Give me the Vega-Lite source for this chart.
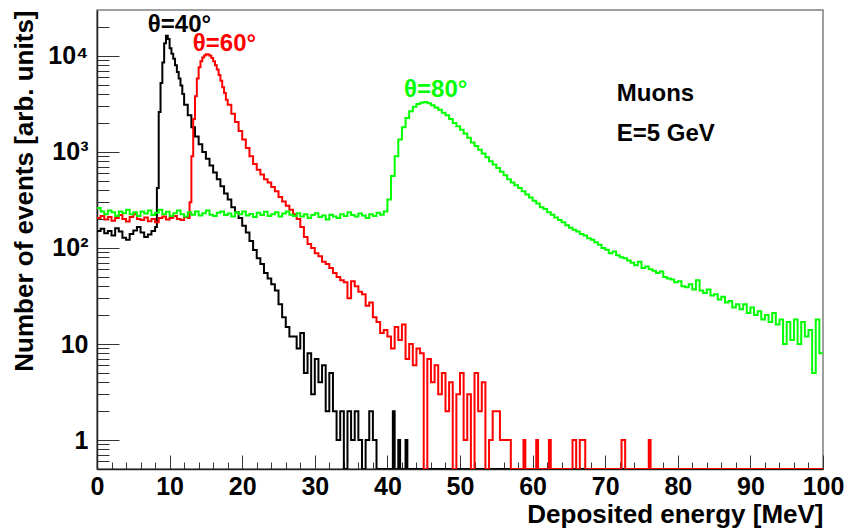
{
  "$schema": "https://vega.github.io/schema/vega-lite/v6.json",
  "width": 726,
  "height": 459,
  "autosize": {"type": "none"},
  "padding": {"left": 97, "top": 10, "right": 25, "bottom": 63},
  "background": "white",
  "config": {"font": "Liberation Sans", "view": {"stroke": "#808080", "strokeWidth": 1.5}},
  "datasets": {
    "k40": [
      {"e":0,"n":150},{"e":0.5,"n":158},{"e":1,"n":142},{"e":1.5,"n":150},{"e":2,"n":135},{"e":2.5,"n":160},{"e":3,"n":148},{"e":3.5,"n":128},{"e":4,"n":122},{"e":4.5,"n":140},{"e":5,"n":152},{"e":5.5,"n":165},{"e":6,"n":145},{"e":6.5,"n":130},{"e":7,"n":138},{"e":7.5,"n":150},{"e":8,"n":165},{"e":8.25,"n":420},{"e":8.5,"n":2600},{"e":8.75,"n":5200},{"e":9,"n":8500},{"e":9.25,"n":13500},{"e":9.5,"n":16200},{"e":9.75,"n":15000},{"e":10,"n":12000},{"e":10.25,"n":10500},{"e":10.5,"n":9300},{"e":10.75,"n":8000},{"e":11,"n":6800},{"e":11.25,"n":5800},{"e":11.5,"n":4900},{"e":11.75,"n":4000},{"e":12,"n":3100},{"e":12.5,"n":2400},{"e":13,"n":1800},{"e":13.5,"n":1450},{"e":14,"n":1200},{"e":14.5,"n":1000},{"e":15,"n":850},{"e":15.5,"n":720},{"e":16,"n":610},{"e":16.5,"n":520},{"e":17,"n":440},{"e":17.5,"n":370},{"e":18,"n":320},{"e":18.5,"n":265},{"e":19,"n":235},{"e":19.5,"n":205},{"e":20,"n":170},{"e":20.5,"n":145},{"e":21,"n":118},{"e":21.5,"n":95},{"e":22,"n":78},{"e":22.5,"n":68},{"e":23,"n":55},{"e":23.5,"n":48},{"e":24,"n":42},{"e":24.5,"n":36},{"e":25,"n":26},{"e":25.5,"n":19},{"e":26,"n":15},{"e":26.5,"n":12},{"e":27,"n":12},{"e":27.5,"n":9},{"e":28,"n":13},{"e":28.5,"n":5},{"e":29,"n":8},{"e":29.5,"n":3},{"e":30,"n":7},{"e":30.5,"n":4},{"e":31,"n":6},{"e":31.5,"n":2},{"e":32,"n":5},{"e":32.5,"n":2},{"e":33,"n":1},{"e":33.5,"n":2},{"e":34,"n":0.5},{"e":34.5,"n":2},{"e":35,"n":1},{"e":35.5,"n":2},{"e":36,"n":1},{"e":36.5,"n":0.5},{"e":37,"n":1},{"e":37.5,"n":2},{"e":38,"n":1},{"e":38.5,"n":0.5},{"e":40.75,"n":2},{"e":41,"n":0.5},{"e":41.5,"n":1},{"e":41.75,"n":0.5},{"e":42.5,"n":1},{"e":42.75,"n":0.5},{"e":100,"n":0.5}
    ],
    "k60": [
      {"e":0,"n":205},{"e":0.5,"n":215},{"e":1,"n":198},{"e":1.5,"n":210},{"e":2,"n":192},{"e":2.5,"n":205},{"e":3,"n":220},{"e":3.5,"n":200},{"e":4,"n":188},{"e":4.5,"n":210},{"e":5,"n":225},{"e":5.5,"n":200},{"e":6,"n":195},{"e":6.5,"n":208},{"e":7,"n":190},{"e":7.5,"n":200},{"e":8,"n":185},{"e":8.5,"n":205},{"e":9,"n":212},{"e":9.5,"n":198},{"e":10,"n":205},{"e":10.5,"n":215},{"e":11,"n":200},{"e":11.5,"n":195},{"e":12,"n":210},{"e":12.5,"n":205},{"e":12.75,"n":300},{"e":13,"n":900},{"e":13.25,"n":2200},{"e":13.5,"n":3800},{"e":13.75,"n":5800},{"e":14,"n":7600},{"e":14.25,"n":8800},{"e":14.5,"n":9600},{"e":14.75,"n":10100},{"e":15,"n":10400},{"e":15.25,"n":10300},{"e":15.5,"n":10000},{"e":15.75,"n":9500},{"e":16,"n":8800},{"e":16.25,"n":8000},{"e":16.5,"n":7200},{"e":16.75,"n":6300},{"e":17,"n":5500},{"e":17.25,"n":4700},{"e":17.5,"n":4100},{"e":17.75,"n":3500},{"e":18,"n":3100},{"e":18.5,"n":2500},{"e":19,"n":2050},{"e":19.5,"n":1650},{"e":20,"n":1350},{"e":20.5,"n":1100},{"e":21,"n":900},{"e":21.5,"n":750},{"e":22,"n":650},{"e":22.5,"n":580},{"e":23,"n":520},{"e":23.5,"n":480},{"e":24,"n":430},{"e":24.5,"n":390},{"e":25,"n":340},{"e":25.5,"n":305},{"e":26,"n":275},{"e":26.5,"n":250},{"e":27,"n":225},{"e":27.5,"n":200},{"e":28,"n":165},{"e":28.5,"n":130},{"e":29,"n":110},{"e":29.5,"n":100},{"e":30,"n":88},{"e":30.5,"n":82},{"e":31,"n":72},{"e":31.5,"n":68},{"e":32,"n":62},{"e":32.5,"n":55},{"e":33,"n":50},{"e":33.5,"n":46},{"e":34,"n":44},{"e":34.5,"n":30},{"e":35,"n":45},{"e":35.5,"n":40},{"e":36,"n":35},{"e":36.5,"n":33},{"e":37,"n":25},{"e":37.5,"n":27},{"e":38,"n":19},{"e":38.5,"n":17},{"e":39,"n":13},{"e":39.5,"n":14},{"e":40,"n":12},{"e":40.5,"n":9},{"e":41,"n":15},{"e":41.5,"n":11},{"e":42,"n":16},{"e":42.5,"n":7},{"e":43,"n":10},{"e":43.5,"n":6},{"e":44,"n":9},{"e":44.5,"n":8},{"e":45,"n":0.5},{"e":45.5,"n":7},{"e":46,"n":4},{"e":46.5,"n":6},{"e":47,"n":3},{"e":47.5,"n":5},{"e":48,"n":2},{"e":48.5,"n":4},{"e":49,"n":0.5},{"e":49.5,"n":3},{"e":50,"n":5},{"e":50.5,"n":1},{"e":51,"n":3},{"e":51.5,"n":0.5},{"e":52,"n":5},{"e":52.5,"n":2},{"e":53,"n":4},{"e":53.5,"n":0.5},{"e":54,"n":1},{"e":54.5,"n":2},{"e":55,"n":2},{"e":55.5,"n":1},{"e":56,"n":1},{"e":56.5,"n":1},{"e":57,"n":0.5},{"e":58.75,"n":1},{"e":59,"n":0.5},{"e":60.5,"n":1},{"e":60.75,"n":0.5},{"e":62.25,"n":1},{"e":62.5,"n":0.5},{"e":65.5,"n":1},{"e":66,"n":0.5},{"e":66.5,"n":1},{"e":67.25,"n":0.5},{"e":72.25,"n":1},{"e":72.75,"n":0.5},{"e":76,"n":1},{"e":76.25,"n":0.5},{"e":100,"n":0.5}
    ],
    "k80": [
      {"e":0,"n":260},{"e":0.5,"n":240},{"e":1,"n":225},{"e":1.5,"n":245},{"e":2,"n":235},{"e":2.5,"n":215},{"e":3,"n":240},{"e":3.5,"n":230},{"e":4,"n":250},{"e":4.5,"n":225},{"e":5,"n":235},{"e":5.5,"n":215},{"e":6,"n":240},{"e":6.5,"n":228},{"e":7,"n":245},{"e":7.5,"n":220},{"e":8,"n":232},{"e":8.5,"n":250},{"e":9,"n":225},{"e":9.5,"n":238},{"e":10,"n":215},{"e":10.5,"n":230},{"e":11,"n":245},{"e":11.5,"n":225},{"e":12,"n":212},{"e":12.5,"n":235},{"e":13,"n":222},{"e":13.5,"n":240},{"e":14,"n":218},{"e":14.5,"n":230},{"e":15,"n":245},{"e":15.5,"n":222},{"e":16,"n":215},{"e":16.5,"n":232},{"e":17,"n":240},{"e":17.5,"n":220},{"e":18,"n":228},{"e":18.5,"n":212},{"e":19,"n":235},{"e":19.5,"n":225},{"e":20,"n":240},{"e":20.5,"n":218},{"e":21,"n":226},{"e":21.5,"n":210},{"e":22,"n":232},{"e":22.5,"n":220},{"e":23,"n":238},{"e":23.5,"n":215},{"e":24,"n":225},{"e":24.5,"n":235},{"e":25,"n":212},{"e":25.5,"n":228},{"e":26,"n":240},{"e":26.5,"n":222},{"e":27,"n":215},{"e":27.5,"n":230},{"e":28,"n":212},{"e":28.5,"n":225},{"e":29,"n":205},{"e":29.5,"n":220},{"e":30,"n":230},{"e":30.5,"n":210},{"e":31,"n":218},{"e":31.5,"n":198},{"e":32,"n":222},{"e":32.5,"n":212},{"e":33,"n":205},{"e":33.5,"n":225},{"e":34,"n":215},{"e":34.5,"n":235},{"e":35,"n":220},{"e":35.5,"n":212},{"e":36,"n":228},{"e":36.5,"n":218},{"e":37,"n":205},{"e":37.5,"n":225},{"e":38,"n":215},{"e":38.5,"n":232},{"e":39,"n":222},{"e":39.5,"n":240},{"e":40,"n":320},{"e":40.5,"n":560},{"e":41,"n":900},{"e":41.5,"n":1350},{"e":42,"n":1800},{"e":42.5,"n":2250},{"e":43,"n":2650},{"e":43.5,"n":2950},{"e":44,"n":3150},{"e":44.5,"n":3250},{"e":45,"n":3300},{"e":45.5,"n":3200},{"e":46,"n":3050},{"e":46.5,"n":2900},{"e":47,"n":2750},{"e":47.5,"n":2550},{"e":48,"n":2400},{"e":48.5,"n":2200},{"e":49,"n":2000},{"e":49.5,"n":1850},{"e":50,"n":1700},{"e":50.5,"n":1550},{"e":51,"n":1400},{"e":51.5,"n":1250},{"e":52,"n":1150},{"e":52.5,"n":1050},{"e":53,"n":960},{"e":53.5,"n":880},{"e":54,"n":800},{"e":54.5,"n":740},{"e":55,"n":680},{"e":55.5,"n":620},{"e":56,"n":570},{"e":56.5,"n":520},{"e":57,"n":480},{"e":57.5,"n":450},{"e":58,"n":420},{"e":58.5,"n":390},{"e":59,"n":360},{"e":59.5,"n":335},{"e":60,"n":310},{"e":60.5,"n":290},{"e":61,"n":265},{"e":61.5,"n":255},{"e":62,"n":235},{"e":62.5,"n":222},{"e":63,"n":208},{"e":63.5,"n":195},{"e":64,"n":185},{"e":64.5,"n":172},{"e":65,"n":162},{"e":65.5,"n":155},{"e":66,"n":148},{"e":66.5,"n":140},{"e":67,"n":135},{"e":67.5,"n":126},{"e":68,"n":122},{"e":68.5,"n":115},{"e":69,"n":108},{"e":69.5,"n":100},{"e":70,"n":96},{"e":70.5,"n":88},{"e":71,"n":92},{"e":71.5,"n":84},{"e":72,"n":80},{"e":72.5,"n":78},{"e":73,"n":74},{"e":73.5,"n":70},{"e":74,"n":66},{"e":74.5,"n":72},{"e":75,"n":62},{"e":75.5,"n":64},{"e":76,"n":60},{"e":76.5,"n":58},{"e":77,"n":55},{"e":77.5,"n":57},{"e":78,"n":50},{"e":78.5,"n":48},{"e":79,"n":47},{"e":79.5,"n":44},{"e":80,"n":45},{"e":80.5,"n":40},{"e":81,"n":39},{"e":81.5,"n":42},{"e":82,"n":37},{"e":82.5,"n":46},{"e":83,"n":36},{"e":83.5,"n":34},{"e":84,"n":37},{"e":84.5,"n":32},{"e":85,"n":33},{"e":85.5,"n":29},{"e":86,"n":31},{"e":86.5,"n":27},{"e":87,"n":28},{"e":87.5,"n":24},{"e":88,"n":26},{"e":88.5,"n":23},{"e":89,"n":26},{"e":89.5,"n":21},{"e":90,"n":24},{"e":90.5,"n":20},{"e":91,"n":22},{"e":91.5,"n":18},{"e":92,"n":20},{"e":92.5,"n":17},{"e":93,"n":21},{"e":93.5,"n":16},{"e":94,"n":18},{"e":94.5,"n":10},{"e":95,"n":17},{"e":95.5,"n":11},{"e":96,"n":18},{"e":96.5,"n":10},{"e":97,"n":17},{"e":97.5,"n":12},{"e":98,"n":14},{"e":98.5,"n":5},{"e":99,"n":18},{"e":99.5,"n":8},{"e":100,"n":8}
    ],
    "notes": [
      {"e":7.0,"n":17500,"t":"θ=40°","g":"a"},
      {"e":13.2,"n":11300,"t":"θ=60°","g":"b"},
      {"e":42.3,"n":3700,"t":"θ=80°","g":"c"},
      {"e":71.6,"n":3350,"t":"Muons","g":"d"},
      {"e":71.6,"n":1290,"t":"E=5 GeV","g":"d"}
    ]
  },
  "encoding": {
    "x": {
      "field": "e",
      "type": "quantitative",
      "scale": {"domain": [0, 100], "nice": false, "zero": false},
      "axis": {
        "title": "Deposited energy [MeV]",
        "titleAnchor": "end",
        "titleFontSize": 26,
        "titleFontWeight": "bold",
        "titleColor": "#000000",
        "titleBaseline": "alphabetic",
        "titleY": 53,
        "values": [0,2,4,6,8,10,12,14,16,18,20,22,24,26,28,30,32,34,36,38,40,42,44,46,48,50,52,54,56,58,60,62,64,66,68,70,72,74,76,78,80,82,84,86,88,90,92,94,96,98,100],
        "labelExpr": "datum.value % 10 === 0 ? datum.label : ''",
        "labelFontSize": 25,
        "labelFontWeight": "bold",
        "labelColor": "#000000",
        "labelPadding": 19,
        "labelOverlap": false,
        "labelFlush": false,
        "tickSize": {"condition": {"test": "datum.value % 10 === 0", "value": -14}, "value": -7},
        "tickColor": "#333333",
        "tickWidth": 1,
        "domainColor": "#222222",
        "domainWidth": 1.5,
        "grid": false
      }
    },
    "y": {
      "field": "n",
      "type": "quantitative",
      "scale": {"type": "log", "domain": [0.5, 30000], "nice": false},
      "axis": {
        "title": "Number of events [arb. units]",
        "titleAnchor": "end",
        "titleFontSize": 26,
        "titleFontWeight": "bold",
        "titleColor": "#000000",
        "titlePadding": 10,
        "values": [0.6,0.7,0.8,0.9,1,2,3,4,5,6,7,8,9,10,20,30,40,50,60,70,80,90,100,200,300,400,500,600,700,800,900,1000,2000,3000,4000,5000,6000,7000,8000,9000,10000,20000],
        "labelExpr": "datum.value == 1 ? '1' : datum.value == 10 ? '10' : datum.value == 100 ? '10²' : datum.value == 1000 ? '10³' : datum.value == 10000 ? '10⁴' : ''",
        "labelFontSize": 25,
        "labelFontWeight": "bold",
        "labelColor": "#000000",
        "labelPadding": 31,
        "labelOverlap": false,
        "labelFlush": false,
        "tickSize": {"condition": {"test": "datum.value == 1 || datum.value == 10 || datum.value == 100 || datum.value == 1000 || datum.value == 10000", "value": -22}, "value": -12},
        "tickColor": "#333333",
        "tickWidth": 1,
        "domainColor": "#222222",
        "domainWidth": 1.5,
        "grid": false
      }
    }
  },
  "layer": [
    {"data": {"name": "k40"}, "mark": {"type": "line", "interpolate": "step-after", "color": "#000000", "strokeWidth": 2, "clip": true}},
    {"data": {"name": "k60"}, "mark": {"type": "line", "interpolate": "step-after", "color": "#ff0000", "strokeWidth": 2, "clip": true}},
    {"data": {"name": "k80"}, "mark": {"type": "line", "interpolate": "step-after", "color": "#00ff00", "strokeWidth": 2, "clip": true}},
    {
      "data": {"name": "notes"},
      "mark": {"type": "text", "align": "left", "baseline": "alphabetic", "fontSize": 24, "fontWeight": "bold"},
      "encoding": {
        "text": {"field": "t", "type": "nominal"},
        "color": {"field": "g", "type": "nominal", "scale": {"domain": ["a", "b", "c", "d"], "range": ["#000000", "#ff0000", "#00ff00", "#000000"]}, "legend": null}
      }
    }
  ]
}
